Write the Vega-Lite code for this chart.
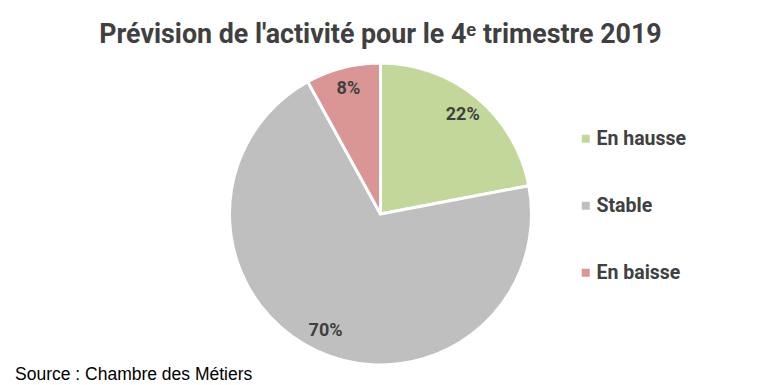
{
  "$schema": "https://vega.github.io/schema/vega-lite/v6.json",
  "autosize": "pad",
  "padding": {"top": 22, "left": 0, "right": 0, "bottom": 0},
  "background": "white",
  "title": {
    "text": "Prévision de l'activité pour le 4ᵉ trimestre 2019",
    "font": "Roboto, sans-serif",
    "fontSize": 26.8,
    "fontWeight": "bold",
    "color": "#404040",
    "anchor": "middle",
    "offset": 8
  },
  "vconcat": [
    {
      "width": 761,
      "height": 302,
      "title": {
        "text": "Source : Chambre des Métiers",
        "orient": "bottom",
        "anchor": "start",
        "frame": "group",
        "font": "Liberation Sans, Arial, sans-serif",
        "fontSize": 17.5,
        "fontWeight": "normal",
        "color": "#000000",
        "dx": 15,
        "offset": -5
      },
      "data": {
        "values": [
          {"categorie": "En hausse", "pct": 22, "ordre": 1, "label": "22%"},
          {"categorie": "Stable", "pct": 70, "ordre": 2, "label": "70%"},
          {"categorie": "En baisse", "pct": 8, "ordre": 3, "label": "8%"}
        ]
      },
      "encoding": {
        "theta": {"field": "pct", "type": "quantitative", "stack": true},
        "order": {"field": "ordre", "type": "quantitative"}
      },
      "layer": [
        {
          "mark": {"type": "arc", "radius": 151, "stroke": "white", "strokeWidth": 3},
          "encoding": {
            "color": {
              "field": "categorie",
              "type": "nominal",
              "sort": ["En hausse", "Stable", "En baisse"],
              "scale": {"domain": ["En hausse", "Stable", "En baisse"], "range": ["#C4D79B", "#BFBFBF", "#D99694"]},
              "legend": {
                "title": null,
                "orient": "none",
                "legendX": 576,
                "legendY": 66,
                "symbolType": "square",
                "symbolSize": 64,
                "symbolStrokeWidth": 0,
                "labelFont": "Roboto, sans-serif",
                "labelFontSize": 19.5,
                "labelFontWeight": "bold",
                "labelColor": "#404040",
                "labelOffset": 1,
                "rowPadding": 46
              }
            }
          }
        },
        {
          "mark": {"type": "text", "radius": 129, "font": "Roboto, sans-serif", "fontSize": 18, "fontWeight": "bold", "color": "#404040"},
          "encoding": {
            "text": {"field": "label", "type": "nominal"}
          }
        }
      ]
    }
  ]
}
